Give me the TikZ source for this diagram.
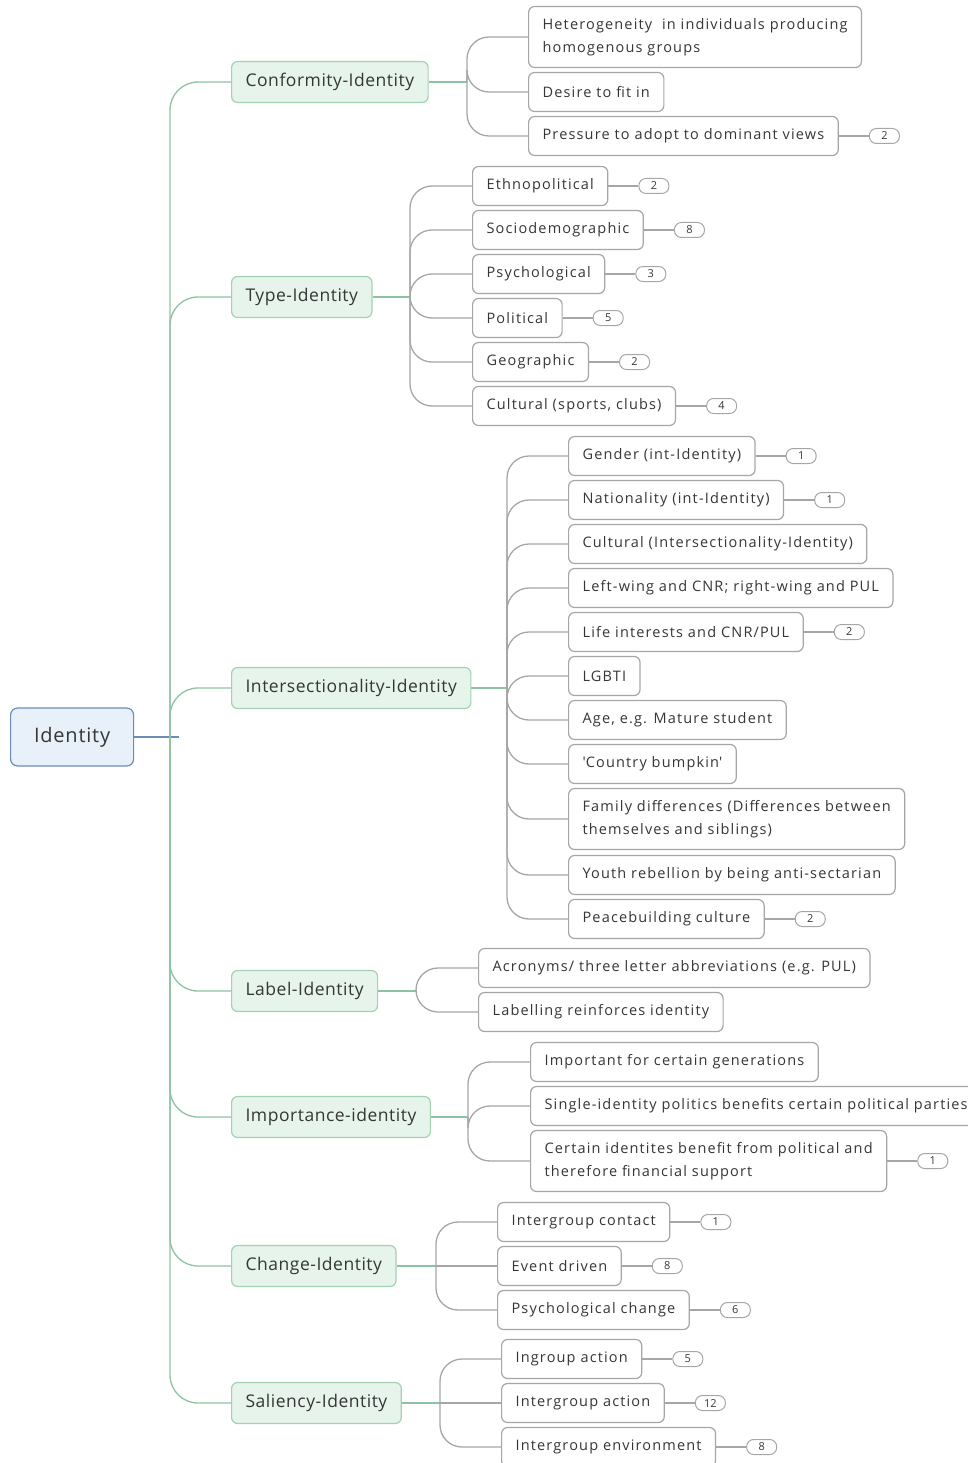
\documentclass[tikz,border=0pt]{standalone}
\usepackage{fontspec}
\setmainfont{Open Sans}
\newfontfamily\leaffont[LetterSpace=8]{Open Sans}
\newfontfamily\topicfont[LetterSpace=3]{Open Sans}
\newfontfamily\rootfont[LetterSpace=4]{Open Sans}
\usetikzlibrary{positioning}
\definecolor{rootfill}{HTML}{E8F0FA}
\definecolor{rootline}{HTML}{6A8DB8}
\definecolor{topicfill}{HTML}{E6F4EB}
\definecolor{topicline}{HTML}{A3D1B3}
\definecolor{trunkline}{HTML}{8DC3A2}
\definecolor{leafline}{HTML}{A6A6A6}
\definecolor{inktext}{HTML}{363636}
\tikzset{
  every node/.style={text=inktext},
  root/.style={draw=rootline, fill=rootfill, line width=1.2pt, rounded corners=7pt,
    minimum width=123pt, minimum height=58pt, anchor=west, font=\rootfont\fontsize{20}{24}\selectfont},
  topic/.style={draw=topicline, fill=topicfill, line width=1.2pt, rounded corners=6pt,
    minimum height=41pt, inner xsep=14pt, anchor=west, font=\topicfont\fontsize{17.5}{20}\selectfont},
  leaf/.style={draw=leafline, fill=white, line width=1.2pt, rounded corners=6pt,
    minimum height=39pt, inner xsep=14pt, inner ysep=8pt, anchor=west, align=left,
    font=\leaffont\fontsize{14.5}{23}\selectfont},
  twoline/.style={minimum height=61pt},
  count/.style={draw=leafline, line width=1pt, rounded corners=7pt, minimum width=30pt,
    minimum height=15pt, inner sep=0pt, font=\fontsize{11}{11}\selectfont},
  rootlink/.style={draw=rootline, line width=1.3pt},
  trunk/.style={draw=trunkline, line width=1.3pt, rounded corners=28pt},
  stub/.style={draw=trunkline, line width=1.3pt},
  link/.style={draw=leafline, line width=1.3pt, rounded corners=22pt},
  tick/.style={draw=leafline, line width=1.3pt},
}
\begin{document}
\begin{tikzpicture}[x=1pt, y=-1pt]
  \useasboundingbox (0,0) rectangle (968,1463);

  % Define nodes
  \node[root] (id) at (10,737) {Identity};

  \node[topic] (conf)  at (231,82)   {Conformity-Identity};
  \node[topic] (type)  at (231,297)  {Type-Identity};
  \node[topic] (inter) at (231,688)  {Intersectionality-Identity};
  \node[topic] (label) at (231,991)  {Label-Identity};
  \node[topic] (impo)  at (231,1117) {Importance-identity};
  \node[topic] (chan)  at (231,1266) {Change-Identity};
  \node[topic] (sali)  at (231,1403) {Saliency-Identity};

  \coordinate (rj) at (170,737);
  \coordinate (cj) at (467,82);
  \coordinate (tj) at (410,297);
  \coordinate (ij) at (507,688);
  \coordinate (lj) at (416,991);
  \coordinate (mj) at (468,1117);
  \coordinate (gj) at (436,1266);
  \coordinate (sj) at (440,1403);

  \node[leaf, twoline] (c1) at (528,37)  {Heterogeneity~ in individuals producing\\homogenous groups};
  \node[leaf] (c2) at (528,92)  {Desire to fit in};
  \node[leaf] (c3) at (528,136) {Pressure to adopt to dominant views};

  \node[leaf] (t1) at (472,186) {Ethnopolitical};
  \node[leaf] (t2) at (472,230) {Sociodemographic};
  \node[leaf] (t3) at (472,274) {Psychological};
  \node[leaf] (t4) at (472,318) {Political};
  \node[leaf] (t5) at (472,362) {Geographic};
  \node[leaf] (t6) at (472,406) {Cultural (sports, clubs)};

  \node[leaf] (i1)  at (568,456) {Gender (int-Identity)};
  \node[leaf] (i2)  at (568,500) {Nationality (int-Identity)};
  \node[leaf] (i3)  at (568,544) {Cultural (Intersectionality-Identity)};
  \node[leaf] (i4)  at (568,588) {Left-wing and CNR; right-wing and PUL};
  \node[leaf] (i5)  at (568,632) {Life interests and CNR/PUL};
  \node[leaf] (i6)  at (568,676) {LGBTI};
  \node[leaf] (i7)  at (568,720) {Age, e.g. Mature student};
  \node[leaf] (i8)  at (568,764) {\textquotesingle Country bumpkin\textquotesingle};
  \node[leaf, twoline] (i9)  at (568,819) {Family differences (Differences between\\themselves and siblings)};
  \node[leaf] (i10) at (568,875) {Youth rebellion by being anti-sectarian};
  \node[leaf] (i11) at (568,919) {Peacebuilding culture};

  \node[leaf] (l1) at (478,968)  {Acronyms/ three letter abbreviations (e.g. PUL)};
  \node[leaf] (l2) at (478,1012) {Labelling reinforces identity};

  \node[leaf] (m1) at (530,1062) {Important for certain generations};
  \node[leaf] (m2) at (530,1106) {Single-identity politics benefits certain political parties};
  \node[leaf, twoline] (m3) at (530,1161) {Certain identites benefit from political and\\therefore financial support};

  \node[leaf] (g1) at (497,1222) {Intergroup contact};
  \node[leaf] (g2) at (497,1266) {Event driven};
  \node[leaf] (g3) at (497,1310) {Psychological change};

  \node[leaf] (s1) at (501,1359) {Ingroup action};
  \node[leaf] (s2) at (501,1403) {Intergroup action};
  \node[leaf] (s3) at (501,1447) {Intergroup environment};

  % Counts
  \foreach \leafname/\num in {c3/2, t1/2, t2/8, t3/3, t4/5, t5/2, t6/4, i1/1, i2/1, i5/2,
      i11/2, m3/1, g1/1, g2/8, g3/6, s1/5, s2/12, s3/8} {
    \node[count, right=30pt of \leafname] (\leafname n) {\num};
    \draw[tick] (\leafname) -- (\leafname n);
  }

  % Connect the nodes
  \draw[rootlink] (id.east) -- ++(45,0);
  \foreach \t in {conf,type,inter,label,impo,chan,sali}
    \draw[trunk] (rj) |- (\t.west);

  \draw[stub] (conf.east) -- (cj);
  \draw[stub] (type.east) -- (tj);
  \draw[stub] (inter.east) -- (ij);
  \draw[stub] (label.east) -- (lj);
  \draw[stub] (impo.east) -- (mj);
  \draw[stub] (chan.east) -- (gj);
  \draw[stub] (sali.east) -- (sj);

  \foreach \c in {c1,c2,c3} \draw[link] (cj) |- (\c.west);
  \foreach \c in {t1,t2,t3,t4,t5,t6} \draw[link] (tj) |- (\c.west);
  \foreach \c in {i1,i2,i3,i4,i5,i6,i7,i8,i9,i10,i11} \draw[link] (ij) |- (\c.west);
  \foreach \c in {l1,l2} \draw[link] (lj) |- (\c.west);
  \foreach \c in {m1,m2,m3} \draw[link] (mj) |- (\c.west);
  \foreach \c in {g1,g3} \draw[link] (gj) |- (\c.west);
  \foreach \c in {s1,s3} \draw[link] (sj) |- (\c.west);
  \draw[link] (gj) -- (g2.west);
  \draw[link] (sj) -- (s2.west);
\end{tikzpicture}
\end{document}
